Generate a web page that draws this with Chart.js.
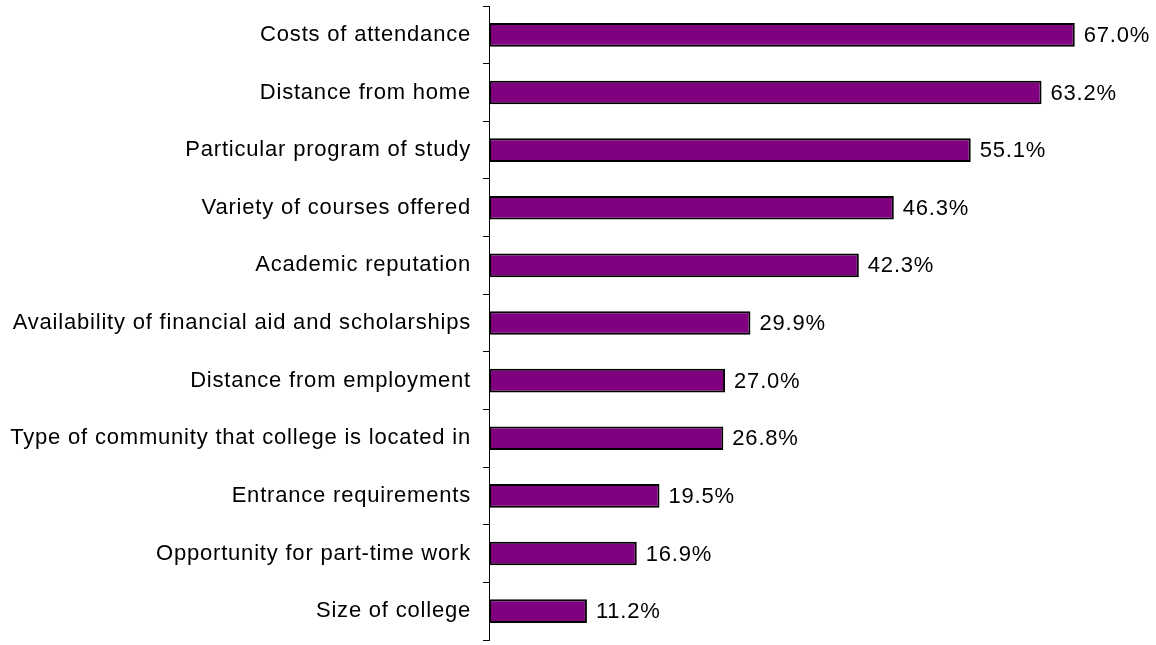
<!DOCTYPE html>
<html>
<head>
<meta charset="utf-8">
<script src="https://cdn.jsdelivr.net/npm/chart.js@4/dist/chart.umd.min.js"></script>
<style>
  html, body { margin: 0; padding: 0; background: #fff; }
  #wrap { width: 1156px; height: 645px; }
</style>
</head>
<body>
<div id="wrap"><canvas id="factorChart" width="1156" height="645"></canvas></div>
<script>
const factors = [
  'Costs of attendance',
  'Distance from home',
  'Particular program of study',
  'Variety of courses offered',
  'Academic reputation',
  'Availability of financial aid and scholarships',
  'Distance from employment',
  'Type of community that college is located in',
  'Entrance requirements',
  'Opportunity for part-time work',
  'Size of college'
];
const shares = [67.0, 63.2, 55.1, 46.3, 42.3, 29.9, 27.0, 26.8, 19.5, 16.9, 11.2];

const FONT = '"Liberation Sans", Arial, sans-serif';

// slightly loose letter spacing for all chart text
const spacing = {
  id: 'spacing',
  beforeInit(chart) { chart.ctx.letterSpacing = '0.8px'; },
  beforeLayout(chart) { chart.ctx.letterSpacing = '0.8px'; },
  beforeDraw(chart) { chart.ctx.letterSpacing = '0.8px'; }
};

// value labels just past the end of each bar
const barLabels = {
  id: 'barLabels',
  afterDatasetsDraw(chart) {
    const ctx = chart.ctx;
    const meta = chart.getDatasetMeta(0);
    ctx.save();
    ctx.font = '22px ' + FONT;
    ctx.fillStyle = '#000';
    ctx.textAlign = 'left';
    ctx.textBaseline = 'middle';
    meta.data.forEach((bar, i) => {
      ctx.fillText(shares[i].toFixed(1) + '%', bar.x + 9, bar.y + 1);
    });
    ctx.restore();
  }
};

new Chart(document.getElementById('factorChart'), {
  type: 'bar',
  data: {
    labels: factors,
    datasets: [{
      data: shares,
      backgroundColor: '#800080',
      borderColor: '#000000',
      borderWidth: 2,
      borderSkipped: false,
      barPercentage: 0.41,
      categoryPercentage: 1.0
    }]
  },
  options: {
    indexAxis: 'y',
    responsive: false,
    animation: false,
    layout: { padding: { top: 6, bottom: 5, right: 55, left: 0 } },
    plugins: {
      legend: { display: false },
      tooltip: { enabled: false }
    },
    scales: {
      x: {
        display: false,
        min: 0,
        max: 70
      },
      y: {
        afterFit(scale) {
          scale.width = 489;
          scale.paddingTop = 0;
          scale.paddingBottom = 0;
        },
        grid: {
          drawOnChartArea: false,
          tickLength: 6,
          color: '#000',
          offset: true
        },
        border: { color: '#000', width: 1 },
        ticks: {
          color: '#000',
          padding: 12,
          font: { family: FONT, size: 22 }
        }
      }
    }
  },
  plugins: [spacing, barLabels]
});
</script>
</body>
</html>
